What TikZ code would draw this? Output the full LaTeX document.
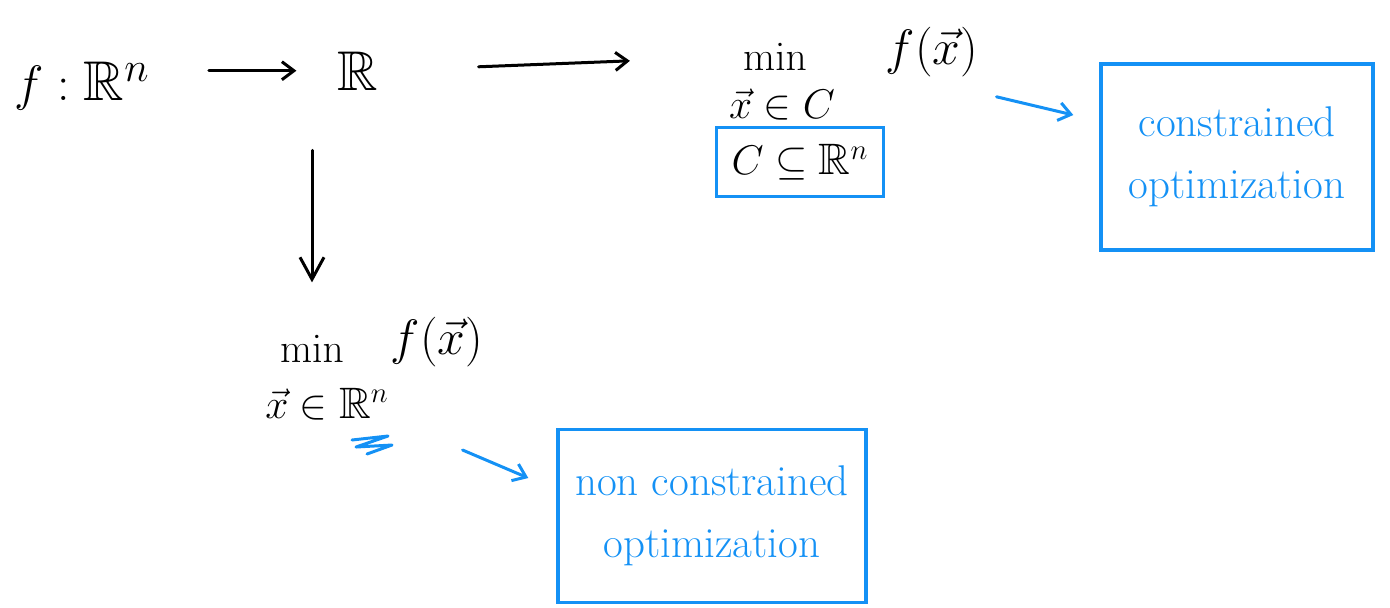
\documentclass[tikz,border=0pt]{standalone}
\usepackage{amsmath}
\usepackage{amssymb}
\usepackage{xcolor}
\usepackage{tikz}
\usetikzlibrary{positioning, calc, arrows.meta}

\definecolor{penblue}{RGB}{20,145,245}

\tikzset{
  ink/.style={line width=1.5pt, line cap=round, line join=round},
  inkarrow/.style={ink, -{Straight Barb[length=6pt,width=9pt]}},
  bluearrow/.style={inkarrow, draw=penblue},
  bigmath/.style={font=\fontsize{28}{32}\selectfont, inner sep=0pt, anchor=base},
  midmath/.style={font=\fontsize{22}{26}\selectfont, inner sep=0pt, anchor=base},
  handtext/.style={text=penblue, font=\fontsize{21.5}{31}\selectfont, align=center},
  bluebox/.style={draw=penblue, line width=1.7pt}
}

\begin{document}
\begin{tikzpicture}[x=0.5pt, y=-0.5pt]
        \useasboundingbox (0,0) rectangle (1390,607);

        % function f
        \node[bigmath] (fn) at (82,100) {$f : \mathbb{R}^n$};
        \node[bigmath] (R) at (358,90) {$\mathbb{R}$};
        \draw[inkarrow, shorten <=29.5pt, shorten >=20.5pt] (fn.east |- R) -- (R.west);

        % constrained problem
        \node[midmath] (mintop) at (775,70) {$\min$};
        \node[bigmath, font=\fontsize{31}{36}\selectfont] (fxtop) at (932,64) {$f(\vec{x})$};
        \node[midmath, font=\fontsize{20}{24}\selectfont] (xinC) at (782,118) {$\vec{x} \in C$};
        \node[midmath, bluebox, anchor=center, inner sep=2pt, minimum width=83.5pt, minimum height=34.5pt]
          (Cbox) at (800,162) {$C \subseteq \mathbb{R}^n$};
        \draw[inkarrow, shorten <=50pt, shorten >=56.5pt] (R.east) -- (mintop.west);

        \node[handtext, bluebox, minimum width=136pt, minimum height=93pt]
          (conbox) at (1237,157) {constrained\\optimization};
        \draw[bluearrow] ([xshift=9pt, yshift=-10pt]fxtop.south east)
          -- ([xshift=-13pt, yshift=21pt]conbox.west);

        % non constrained problem
        \node[midmath] (minbot) at (312,362) {$\min$};
        \node[midmath, font=\fontsize{25}{30}\selectfont] (fxbot) at (437,354) {$f(\vec{x})$};
        \node[midmath] (xrn) at (327,418) {$\vec{x} \in \mathbb{R}^n$};
        \draw[ink, -{Straight Barb[length=11pt,width=12pt]}, shorten <=30pt, shorten >=26pt]
          (minbot.north |- R.south) -- (minbot.north);

        \draw[ink, draw=penblue] (352,440) -- (388,436) -- (356,447) -- (392,445) -- (367,454);

        \node[handtext, bluebox, minimum width=154pt, minimum height=86.5pt]
          (ncbox) at (712,516) {non constrained\\optimization};
        \draw[bluearrow] ([xshift=36.75pt, yshift=-15pt]xrn.south east)
          -- ([xshift=-14pt, yshift=19pt]ncbox.west);
      \end{tikzpicture}
\end{document}
